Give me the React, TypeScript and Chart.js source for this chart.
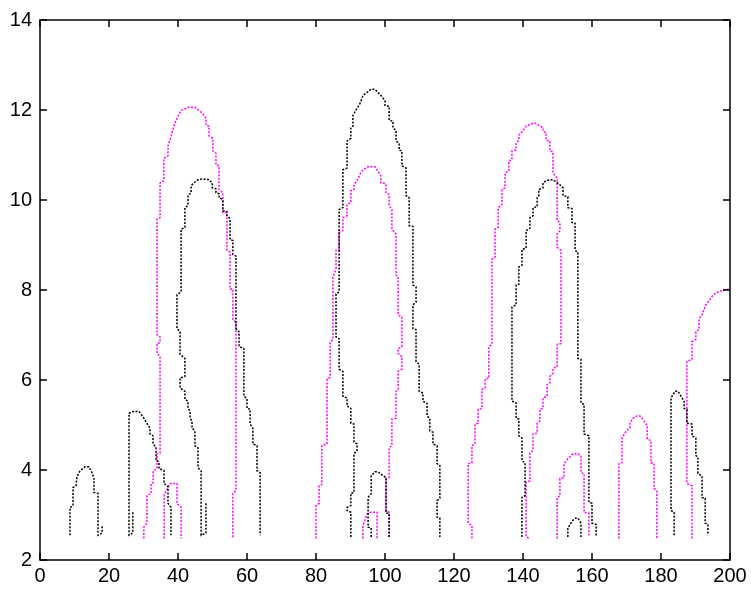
import React, { useEffect, useRef } from "react";
import { Chart, registerables } from "chart.js";

Chart.register(...registerables);

type Pt = [number, number];

// Axis ticks
const xTicks = [0, 20, 40, 60, 80, 100, 120, 140, 160, 180, 200];
const yTicks = [2, 4, 6, 8, 10, 12, 14];

// Black contour lines
const black1: Pt[] = [
  [8.7, 2.55], [8.7, 3.17], [9.57, 3.21], [9.57, 3.61], [10.43, 3.65], [10.72, 3.85], [11.59, 3.98],
  [13.04, 4.07], [14.2, 4.07], [15.07, 3.94], [15.65, 3.81], [15.65, 3.5], [16.81, 3.48], [16.81, 2.55],
  [18.0, 2.6], [18.0, 2.75],
];
const black2: Pt[] = [
  [26.9, 3.06], [26.9, 2.6], [25.8, 2.55], [25.8, 5.26], [26.96, 5.3], [28.7, 5.3], [29.86, 5.18],
  [30.72, 5.07], [31.88, 4.93], [31.88, 4.8], [32.75, 4.76], [32.75, 4.58], [33.62, 4.51], [33.62, 4.21],
  [34.49, 4.18], [34.49, 4.03], [35.94, 3.99], [35.94, 3.7], [37.1, 3.63], [37.1, 3.26], [37.97, 3.17],
  [37.97, 2.55],
];
const black3: Pt[] = [
  [48.1, 3.26], [48.1, 2.6], [46.7, 2.55], [46.7, 3.98], [45.8, 4.05], [45.8, 4.49], [44.9, 4.54],
  [44.9, 4.87], [44.06, 4.93], [44.06, 5.09], [43.5, 5.15], [43.5, 5.31], [42.9, 5.37], [42.9, 5.53],
  [42.0, 5.57], [42.0, 5.75], [40.6, 5.82], [40.6, 6.04], [42.0, 6.08], [42.0, 6.48], [40.6, 6.57],
  [40.6, 7.07], [39.7, 7.14], [39.7, 7.89], [40.9, 7.96], [40.9, 9.35], [42.0, 9.39], [42.0, 9.83],
  [42.9, 9.88], [42.9, 10.1], [43.8, 10.16], [43.8, 10.32], [44.6, 10.38], [45.8, 10.45], [47.2, 10.47],
  [49.0, 10.45], [49.9, 10.38], [49.9, 10.27], [51.0, 10.25], [51.0, 10.16], [51.9, 10.14], [51.9, 10.05],
  [53.0, 10.01], [53.0, 9.76], [54.2, 9.74], [54.2, 9.65], [55.1, 9.59], [55.1, 9.12], [55.9, 9.1],
  [55.9, 8.79], [56.8, 8.75], [56.8, 7.14], [57.7, 7.07], [57.7, 6.74], [59.1, 6.7], [59.1, 5.64],
  [60.0, 5.59], [60.0, 5.37], [60.9, 5.35], [60.9, 5.02], [61.7, 4.93], [61.7, 4.58], [62.9, 4.54],
  [62.9, 3.98], [63.8, 3.94], [63.8, 2.55],
];
const black4: Pt[] = [
  [96.0, 2.51], [96.0, 2.71], [95.1, 2.73], [95.1, 3.39], [96.0, 3.48], [96.0, 3.87], [97.1, 3.96],
  [98.0, 3.96], [98.6, 3.92], [100.3, 3.83], [100.3, 3.04], [101.2, 3.04], [101.2, 2.51],
];
const black5: Pt[] = [
  [90.1, 2.51], [90.1, 3.06], [89.0, 3.1], [89.0, 3.17], [90.1, 3.21], [90.1, 3.48], [91.0, 3.5],
  [91.0, 4.36], [91.9, 4.43], [91.9, 4.58], [91.0, 4.62], [91.0, 5.02], [90.1, 5.04], [90.1, 5.37],
  [89.0, 5.42], [89.0, 5.6], [87.8, 5.64], [87.8, 6.19], [86.7, 6.24], [86.7, 6.92], [85.8, 6.96],
  [85.8, 7.91], [86.7, 7.96], [86.7, 9.79], [87.8, 9.83], [87.8, 10.67], [89.0, 10.71], [89.0, 11.31],
  [90.1, 11.37], [90.1, 11.6], [90.7, 11.64], [90.7, 11.88], [91.9, 12.04], [92.8, 12.15], [93.6, 12.32],
  [95.1, 12.41], [96.0, 12.46], [97.1, 12.46], [97.7, 12.41], [98.8, 12.32], [100.0, 12.21], [100.0, 12.1],
  [101.2, 12.08], [101.2, 11.77], [102.3, 11.75], [102.3, 11.6], [103.2, 11.55], [103.2, 11.31],
  [104.1, 11.26], [104.1, 11.11], [104.9, 11.09], [104.9, 10.76], [106.1, 10.71], [106.1, 10.1],
  [107.0, 10.05], [107.0, 9.43], [108.1, 9.41], [108.1, 8.11], [109.0, 8.07], [109.0, 7.73], [108.1, 7.67],
  [108.1, 7.14], [109.0, 7.12], [109.0, 6.41], [109.9, 6.35], [109.9, 5.75], [111.0, 5.71], [111.0, 5.53],
  [112.2, 5.48], [112.2, 5.2], [113.0, 5.15], [113.0, 4.87], [113.9, 4.84], [113.9, 4.58], [115.1, 4.54],
  [115.1, 4.14], [115.9, 4.1], [115.9, 3.37], [115.1, 3.32], [115.1, 2.95], [115.9, 2.93], [115.9, 2.51],
];
const black6: Pt[] = [
  [139.7, 2.51], [139.7, 3.39], [140.6, 3.43], [140.6, 4.16], [139.7, 4.21], [139.7, 4.71], [138.8, 4.76],
  [138.8, 5.13], [138.0, 5.15], [138.0, 5.49], [136.8, 5.53], [136.8, 7.62], [138.0, 7.67], [138.0, 8.11],
  [138.8, 8.13], [138.8, 8.51], [139.7, 8.55], [139.7, 8.9], [140.9, 8.93], [140.9, 9.32], [142.0, 9.37],
  [142.0, 9.61], [142.9, 9.65], [142.9, 9.83], [144.1, 9.85], [144.1, 10.05], [144.6, 10.1], [144.6, 10.23],
  [145.8, 10.27], [145.8, 10.38], [146.7, 10.43], [147.8, 10.45], [148.7, 10.45], [150.7, 10.34],
  [151.6, 10.27], [151.6, 10.1], [153.0, 10.07], [153.0, 9.83], [154.2, 9.81], [154.2, 9.5], [155.1, 9.48],
  [155.1, 8.88], [155.9, 8.84], [155.9, 6.48], [156.8, 6.46], [156.8, 5.49], [157.7, 5.46], [157.7, 4.8],
  [159.1, 4.76], [159.1, 3.28], [160.0, 3.26], [160.0, 2.82], [161.2, 2.79], [161.2, 2.51],
];
const black7: Pt[] = [
  [153.0, 2.51], [153.0, 2.71], [154.2, 2.86], [155.1, 2.93], [155.9, 2.93], [156.8, 2.82], [156.8, 2.51],
];
const black8: Pt[] = [
  [183.8, 2.55], [183.8, 3.06], [182.9, 3.1], [182.9, 5.6], [184.1, 5.75], [184.9, 5.75], [185.8, 5.64],
  [186.7, 5.53], [186.7, 5.37], [187.5, 5.35], [187.5, 5.04], [189.0, 5.02], [189.0, 4.76], [190.1, 4.71],
  [190.1, 4.32], [190.7, 4.29], [190.7, 3.92], [191.9, 3.87], [191.9, 3.39], [192.8, 3.37], [192.8, 2.82],
  [193.6, 2.79], [193.6, 2.55],
];

// Magenta contour lines
const magenta1: Pt[] = [
  [30.1, 2.48], [30.1, 2.73], [31.0, 2.82], [31.0, 3.43], [32.2, 3.48], [32.2, 3.7], [32.8, 3.72],
  [32.8, 3.98], [33.9, 4.03], [33.9, 4.36], [34.8, 4.38], [34.8, 6.52], [33.9, 6.59], [33.9, 6.81],
  [34.8, 6.83], [34.8, 6.96], [33.9, 7.01], [33.9, 9.57], [34.8, 9.61], [34.8, 10.38], [35.9, 10.43],
  [35.9, 10.93], [37.1, 10.98], [37.1, 11.2], [38.0, 11.42], [38.8, 11.64], [39.7, 11.82], [40.9, 11.99],
  [42.9, 12.06], [44.9, 12.06], [46.1, 11.99], [47.0, 11.93], [48.1, 11.82], [48.1, 11.66], [49.0, 11.64],
  [49.0, 11.42], [50.1, 11.37], [50.1, 11.09], [51.0, 11.04], [51.0, 10.78], [51.9, 10.76], [51.9, 10.23],
  [53.0, 10.16], [53.0, 9.72], [54.2, 9.72], [54.2, 8.88], [55.1, 8.84], [55.1, 8.02], [55.9, 8.02],
  [55.9, 7.34], [56.8, 7.29], [56.8, 3.54], [55.9, 3.48], [55.9, 2.48],
];
const magenta2: Pt[] = [
  [36.0, 2.48], [36.0, 3.45], [37.7, 3.7], [39.7, 3.7], [39.7, 3.26], [40.9, 3.17], [40.9, 2.48],
];
const magenta3: Pt[] = [
  [93.6, 2.48], [93.6, 2.77], [94.8, 3.02], [95.9, 3.06], [97.7, 3.06], [97.7, 2.48],
];
const magenta4: Pt[] = [
  [80.0, 2.48], [80.0, 3.21], [80.9, 3.26], [80.9, 3.65], [81.7, 3.68], [81.7, 4.54], [83.2, 4.58],
  [83.2, 6.02], [84.1, 6.06], [84.1, 6.85], [84.9, 6.9], [84.9, 8.29], [85.8, 8.46], [85.8, 8.88],
  [86.7, 8.9], [86.7, 9.28], [87.8, 9.32], [87.8, 9.61], [89.0, 9.65], [89.0, 9.9], [90.1, 9.94],
  [90.1, 10.21], [91.0, 10.23], [91.0, 10.34], [91.9, 10.43], [92.8, 10.58], [93.6, 10.67], [95.1, 10.74],
  [97.1, 10.74], [97.7, 10.67], [98.8, 10.54], [98.8, 10.38], [100.3, 10.36], [100.3, 10.16], [101.2, 10.12],
  [101.2, 9.87], [102.0, 9.79], [102.0, 9.35], [103.2, 9.24], [103.2, 8.33], [103.8, 8.29], [103.8, 7.45],
  [104.9, 7.4], [104.9, 6.74], [103.8, 6.7], [103.8, 6.59], [104.9, 6.52], [104.9, 6.24], [103.8, 6.19],
  [103.8, 5.79], [103.2, 5.75], [103.2, 5.15], [102.0, 5.13], [102.0, 4.54], [101.2, 4.49], [101.2, 3.83],
  [100.3, 3.81], [100.3, 3.1], [101.2, 3.06], [101.2, 2.51],
];
const magenta5: Pt[] = [
  [125.2, 2.48], [125.2, 2.77], [124.1, 2.82], [124.1, 4.14], [125.2, 4.16], [125.2, 4.54], [126.1, 4.58],
  [126.1, 5.02], [127.0, 5.04], [127.0, 5.35], [128.1, 5.37], [128.1, 5.79], [129.0, 5.82], [129.0, 6.02],
  [130.1, 6.04], [130.1, 6.74], [131.0, 6.79], [131.0, 8.68], [131.9, 8.73], [131.9, 9.35], [132.8, 9.39],
  [132.8, 9.83], [133.9, 9.9], [133.9, 10.23], [134.8, 10.27], [134.8, 10.6], [135.9, 10.65], [135.9, 10.87],
  [136.8, 10.89], [136.8, 11.09], [138.0, 11.11], [138.0, 11.26], [138.8, 11.33], [138.8, 11.44],
  [139.7, 11.51], [140.9, 11.64], [142.0, 11.68], [143.5, 11.71], [144.6, 11.66], [145.8, 11.6],
  [145.8, 11.53], [146.7, 11.49], [146.7, 11.33], [147.8, 11.31], [147.8, 11.09], [148.7, 11.07],
  [148.7, 10.6], [149.9, 10.49], [149.9, 9.54], [150.7, 9.5], [150.7, 9.32], [149.9, 9.24], [149.9, 8.95],
  [151.0, 8.88], [151.0, 6.81], [149.9, 6.79], [149.9, 6.3], [148.7, 6.26], [148.7, 6.15], [147.8, 6.08],
  [147.8, 5.93], [147.0, 5.9], [147.0, 5.64], [145.8, 5.6], [145.8, 5.37], [144.9, 5.35], [144.9, 5.09],
  [144.1, 5.04], [144.1, 4.82], [142.9, 4.8], [142.9, 4.43], [142.0, 4.38], [142.0, 3.76], [140.9, 3.72],
  [140.9, 2.51], [142.0, 2.48],
];
const magenta6: Pt[] = [
  [149.9, 2.48], [149.9, 3.39], [150.7, 3.43], [150.7, 3.81], [151.9, 3.83], [151.9, 4.14], [153.0, 4.25],
  [154.5, 4.36], [155.9, 4.36], [156.8, 4.32], [156.8, 3.94], [157.7, 3.92], [157.7, 3.06], [159.1, 3.04],
  [159.1, 2.51],
];
const magenta7: Pt[] = [
  [167.8, 2.48], [167.8, 4.14], [168.7, 4.16], [168.7, 4.71], [169.9, 4.87], [171.0, 4.93], [171.0, 5.04],
  [171.9, 5.15], [173.0, 5.2], [173.9, 5.2], [174.8, 5.13], [176.0, 4.98], [176.0, 4.69], [177.1, 4.65],
  [177.1, 4.16], [178.0, 4.14], [178.0, 3.59], [178.8, 3.54], [178.8, 2.48],
];
const magenta8: Pt[] = [
  [189.0, 2.48], [189.0, 3.65], [187.5, 3.7], [187.5, 6.41], [189.0, 6.46], [189.0, 6.85], [190.1, 6.9],
  [190.1, 7.07], [191.0, 7.12], [191.0, 7.36], [191.9, 7.45], [193.0, 7.67], [193.9, 7.76], [195.1, 7.89],
  [196.5, 7.96], [198.0, 8.0], [200.0, 8.02],
];

const blackSeries = [black1, black2, black3, black4, black5, black6, black7, black8];
const magentaSeries = [magenta1, magenta2, magenta3, magenta4, magenta5, magenta6, magenta7, magenta8];

const BLACK = "#000000";
const MAGENTA = "#ff00ff";

const framePlugin = {
  id: "matlabFrame",
  afterDraw(chart: any) {
    const { ctx, chartArea } = chart;
    const xs = chart.scales.x;
    const ys = chart.scales.y;
    const { left, right, top, bottom } = chartArea;
    const tl = 7;
    ctx.save();
    ctx.strokeStyle = "#000";
    ctx.lineWidth = 1.5;
    ctx.beginPath();
    ctx.rect(left, top, right - left, bottom - top);
    ctx.stroke();
    ctx.beginPath();
    xTicks.forEach((v) => {
      const px = xs.getPixelForValue(v);
      ctx.moveTo(px, bottom);
      ctx.lineTo(px, bottom - tl);
      ctx.moveTo(px, top);
      ctx.lineTo(px, top + tl);
    });
    yTicks.forEach((v) => {
      const py = ys.getPixelForValue(v);
      ctx.moveTo(left, py);
      ctx.lineTo(left + tl, py);
      ctx.moveTo(right, py);
      ctx.lineTo(right - tl, py);
    });
    ctx.stroke();
    ctx.restore();
  },
};

export default function App() {
  const ref = useRef<HTMLCanvasElement | null>(null);

  useEffect(() => {
    if (!ref.current) return;
    const mk = (pts: Pt[], color: string) => ({
      data: pts.map(([x, y]) => ({ x, y })),
      borderColor: color,
      backgroundColor: color,
      showLine: true,
      pointRadius: 0,
      borderWidth: 1.5,
      borderDash: [2, 1.5],
      fill: false,
      tension: 0,
    });
    const datasets = [
      ...blackSeries.map((s) => mk(s, BLACK)),
      ...magentaSeries.map((s) => mk(s, MAGENTA)),
    ];
    const font = { family: "'Liberation Sans', Arial, sans-serif", size: 20 };
    const chart = new Chart(ref.current, {
      type: "scatter",
      data: { datasets },
      plugins: [framePlugin],
      options: {
        animation: false,
        responsive: false,
        devicePixelRatio: 1,
        layout: { padding: { top: 16, right: 21, left: 0, bottom: 0 } },
        plugins: { legend: { display: false }, tooltip: { enabled: false } },
        scales: {
          x: {
            type: "linear",
            min: 0,
            max: 200,
            afterBuildTicks: (s: any) => {
              s.ticks = xTicks.map((v) => ({ value: v }));
            },
            afterFit: (s: any) => {
              s.height = 29;
            },
            ticks: { color: "#000", font, padding: 4, maxRotation: 0, autoSkip: false },
            grid: { display: false, drawTicks: false },
            border: { display: false },
          },
          y: {
            type: "linear",
            min: 2,
            max: 14,
            afterBuildTicks: (s: any) => {
              s.ticks = yTicks.map((v) => ({ value: v }));
            },
            afterFit: (s: any) => {
              s.width = 40;
            },
            ticks: { color: "#000", font, padding: 8, autoSkip: false },
            grid: { display: false, drawTicks: false },
            border: { display: false },
          },
        },
      },
    } as any);
    return () => chart.destroy();
  }, []);

  return (
    <div style={{ position: "absolute", left: 0, top: 0, width: 751, height: 589, background: "#fff" }}>
      <canvas ref={ref} width={751} height={589} />
    </div>
  );
}
